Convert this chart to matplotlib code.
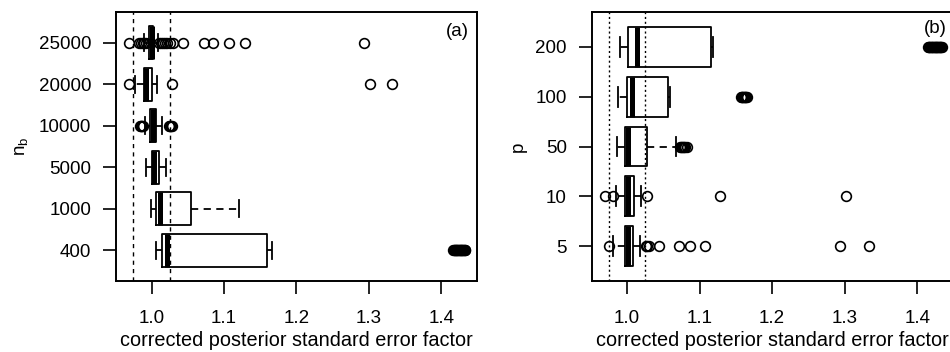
import matplotlib.pyplot as plt

plt.rcParams['font.family'] = ['Liberation Sans', 'DejaVu Sans']
plt.rcParams['font.size'] = 13.5

# panel (a): number of bootstrap samples n_b
nb_labels = ['400', '1000', '5000', '10000', '20000', '25000']
nb_q1 = [1.014, 1.0055, 1.0004, 0.9977, 0.9894, 0.9967]
nb_med = [1.022, 1.012, 1.0036, 1.002, 0.993, 1.000]
nb_q3 = [1.159, 1.055, 1.010, 1.006, 1.000, 1.002]
nb_lo = [1.006, 0.999, 0.993, 0.991, 0.977, 0.990]
nb_hi = [1.166, 1.120, 1.020, 1.0138, 1.0078, 1.009]
nb_fliers = [
    [1.416, 1.417, 1.418, 1.419, 1.420, 1.421, 1.422, 1.423, 1.424,
     1.425, 1.426, 1.427, 1.428, 1.429, 1.430, 1.431, 1.432, 1.433],
    [],
    [],
    [0.984, 0.985, 0.986, 0.987, 0.988, 1.024, 1.025, 1.026, 1.027, 1.028],
    [0.969, 1.0284, 1.301, 1.332],
    [0.969, 0.983, 0.986, 0.988, 0.990, 0.992, 1.010, 1.013, 1.016, 1.019,
     1.022, 1.025, 1.030, 1.044, 1.072, 1.085, 1.107, 1.129, 1.293],
]

# panel (b): number of parameters p
p_labels = ['5', '10', '50', '100', '200']
p_q1 = [0.9972, 0.9972, 0.9972, 0.9994, 1.0009]
p_med = [1.001, 1.0014, 1.0009, 1.0063, 1.0133]
p_q3 = [1.0083, 1.0096, 1.0275, 1.057, 1.116]
p_lo = [0.9811, 0.984, 0.9853, 0.9876, 0.9904]
p_hi = [1.0174, 1.019, 1.068, 1.059, 1.118]
p_fliers = [
    [0.9756, 1.0262, 1.028, 1.030, 1.0445, 1.072, 1.086, 1.107, 1.294, 1.333],
    [0.970, 0.981, 1.027, 1.1285, 1.302],
    [1.0725, 1.074, 1.0755, 1.077, 1.0785, 1.080, 1.082],
    [1.157, 1.158, 1.159, 1.160, 1.161, 1.162, 1.163, 1.164, 1.165],
    [1.415, 1.416, 1.417, 1.418, 1.419, 1.420, 1.421, 1.422, 1.423, 1.424,
     1.425, 1.426, 1.427, 1.428, 1.429, 1.430, 1.431, 1.432, 1.433, 1.434],
]

xticks = [1.0, 1.1, 1.2, 1.3, 1.4]


def make_stats(q1, med, q3, lo, hi, fliers):
    return [dict(q1=a, med=b, q3=c, whislo=d, whishi=e, fliers=f)
            for a, b, c, d, e, f in zip(q1, med, q3, lo, hi, fliers)]


def draw_panel(ax, stats, labels, ylabel, tag, vls, tagpos):
    n = len(labels)
    ax.bxp(stats, positions=range(1, n + 1), widths=0.8, capwidths=0.4,
           orientation='horizontal', showfliers=True,
           boxprops=dict(color='black', lw=1.3),
           medianprops=dict(color='black', lw=3.6, solid_capstyle='butt'),
           whiskerprops=dict(color='black', lw=1.3, linestyle=(0, (4, 3))),
           capprops=dict(color='black', lw=1.3),
           flierprops=dict(marker='o', mfc='none', mec='black', ms=7, mew=1.2))
    # reference band at 1 +/- 0.025
    for x in [0.975, 1.025]:
        ax.axvline(x, color='black', lw=1.0, linestyle=vls, zorder=0)
    ax.set_xlim(0.951, 1.449)
    ax.set_ylim(0.5 - 0.04 * n, n + 0.5 + 0.04 * n)
    ax.set_xticks(xticks)
    ax.set_xticklabels(['%.1f' % v for v in xticks])
    ax.set_yticks(range(1, n + 1))
    ax.set_yticklabels(labels)
    ax.tick_params(axis='y', length=9.4, width=1.2, pad=8.5)
    ax.tick_params(axis='x', length=9, width=1.2, pad=12)
    for s in ax.spines.values():
        s.set_linewidth(1.4)
    ax.set_xlabel('corrected posterior standard error factor', fontsize=14.3,
                  labelpad=2.5)
    ax.set_ylabel(ylabel, labelpad=6)
    ax.text(tagpos[0], tagpos[1], tag, transform=ax.transAxes,
            ha='center', va='center')


fig = plt.figure(figsize=(9.5, 3.52), dpi=100)
ax1 = fig.add_axes([0.1221, 0.2017, 0.3800, 0.7642])
ax2 = fig.add_axes([0.6228, 0.2017, 0.3800, 0.7642])

draw_panel(ax1, make_stats(nb_q1, nb_med, nb_q3, nb_lo, nb_hi, nb_fliers),
           nb_labels, r'$\mathregular{n_b}$', '(a)', (0, (3, 3)), (0.947, 0.926))
draw_panel(ax2, make_stats(p_q1, p_med, p_q3, p_lo, p_hi, p_fliers),
           p_labels, 'p', '(b)', (0, (1.5, 2)), (0.951, 0.94))

fig.savefig('out.png', dpi=100)
